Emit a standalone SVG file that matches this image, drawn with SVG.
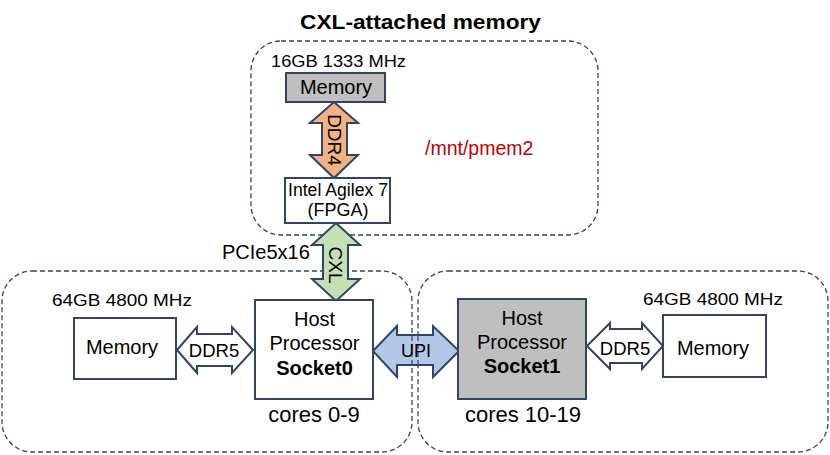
<svg xmlns="http://www.w3.org/2000/svg" width="830" height="455" viewBox="0 0 830 455">
<style>
text{font-family:"Liberation Sans",Arial,sans-serif;fill:#000}
.grp{fill:none;stroke:#2f4468;stroke-width:1.3;stroke-dasharray:5,3}
.box{fill:#fff;stroke:#2f4468;stroke-width:2}
.gray{fill:#bfbfbf}
.arr{stroke:#2f4468;stroke-width:2;stroke-linejoin:miter}
.c{text-anchor:middle}
.t{font-size:20px}
.cap{font-size:17px}
</style>
<rect width="830" height="455" fill="#fff"/>
<text x="420.5" y="29" class="c" font-size="21" font-weight="bold" textLength="241" lengthAdjust="spacingAndGlyphs">CXL-attached memory</text>
<g id="cxl-group"><rect class="grp" x="251" y="41" width="347" height="194" rx="30"/></g>
<g id="socket0-group"><rect class="grp" x="2" y="271" width="410" height="181" rx="30"/></g>
<g id="socket1-group"><rect class="grp" x="418" y="271" width="410" height="181" rx="30"/></g>
<g id="connectors">
  <path id="ddr4" class="arr" fill="#f4b183" d="M334,102 L358,123 L347,123 L347,155 L358,155 L334,178 L310,155 L322,155 L322,123 L310,123 Z"/>
  <text class="c" font-size="19" transform="translate(334.5,140) rotate(90)" dy="7">DDR4</text>
  <path id="cxl" class="arr" fill="#c5e0b4" d="M336,223 L360,245 L348,245 L348,279 L360,279 L336,301 L312,279 L323,279 L323,245 L312,245 Z"/>
  <text class="c" font-size="19" transform="translate(336,265) rotate(90)" dy="7">CXL</text>
  <path id="ddr5-left" class="arr" fill="#fff" d="M177,350 L197,327 L197,334 L232,334 L232,327 L253,350 L232,373 L232,366 L197,366 L197,373 Z"/>
  <text x="214" y="357" class="c" font-size="18.5">DDR5</text>
  <path id="upi" class="arr" fill="#b4c7e7" d="M373,351 L397,326 L397,335 L433,335 L433,326 L459,351 L433,377 L433,365 L397,365 L397,377 Z"/>
  <path class="grp" d="M412,336 V364 M418,336 V364" opacity="0.9"/>
  <text x="416" y="357" class="c" font-size="18">UPI</text>
  <path id="ddr5-right" class="arr" fill="#fff" d="M587,346 L610,323 L610,329 L642,329 L642,323 L663,346 L642,369 L642,363 L610,363 L610,369 Z"/>
  <text x="625" y="355" class="c" font-size="18.5">DDR5</text>
</g>
<text x="222" y="259" class="t">PCIe5x16</text>
<g id="cxl-memory">
  <text x="271" y="67" class="cap" textLength="135" lengthAdjust="spacingAndGlyphs">16GB 1333 MHz</text>
  <rect class="box gray" x="286" y="73" width="99" height="29"/>
  <text x="336" y="94" class="c t">Memory</text>
</g>
<g id="fpga">
  <rect class="box" x="285" y="178" width="105" height="45"/>
  <text x="338" y="196" class="c" font-size="18" textLength="100" lengthAdjust="spacingAndGlyphs">Intel Agilex 7</text>
  <text x="338" y="216" class="c" font-size="18">(FPGA)</text>
</g>
<text x="425" y="155" font-size="19.5" style="fill:#c00000">/mnt/pmem2</text>
<g id="memory-left">
  <text x="52" y="306" class="cap" textLength="140" lengthAdjust="spacingAndGlyphs">64GB 4800 MHz</text>
  <rect class="box" x="74" y="318" width="102" height="61"/>
  <text x="122" y="354" class="c t">Memory</text>
</g>
<g id="socket0">
  <rect class="box" x="255" y="300" width="118" height="99"/>
  <text x="314.5" y="326" class="c t">Host</text>
  <text x="314.5" y="350" class="c t">Processor</text>
  <text x="314.5" y="375" class="c t" font-weight="bold">Socket0</text>
  <text x="314" y="422" class="c" font-size="22">cores 0-9</text>
</g>
<g id="socket1">
  <rect class="box gray" x="458" y="299" width="128" height="100"/>
  <text x="522" y="325" class="c t">Host</text>
  <text x="522" y="349" class="c t">Processor</text>
  <text x="522" y="373" class="c t" font-weight="bold">Socket1</text>
  <text x="523" y="422" class="c" font-size="22">cores 10-19</text>
</g>
<g id="memory-right">
  <text x="643" y="305" class="cap" textLength="140" lengthAdjust="spacingAndGlyphs">64GB 4800 MHz</text>
  <rect class="box" x="663" y="315" width="103" height="62"/>
  <text x="713" y="355" class="c t">Memory</text>
</g>
</svg>
